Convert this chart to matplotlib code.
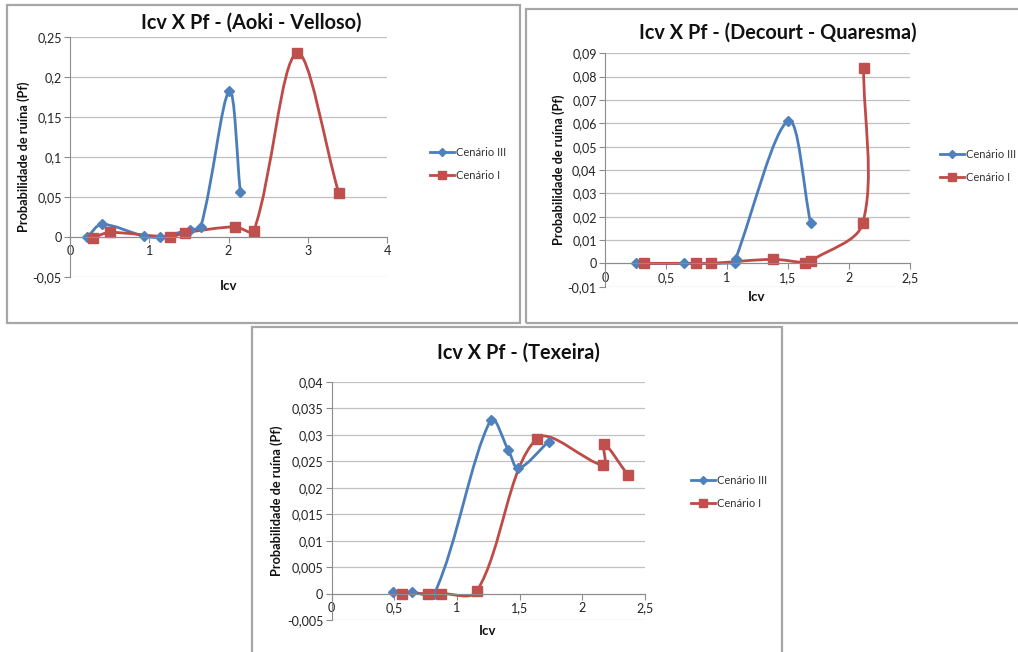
import matplotlib
matplotlib.use("Agg")
import matplotlib.pyplot as plt
import numpy as np
from matplotlib.path import Path
from matplotlib.patches import PathPatch, Rectangle
from matplotlib.lines import Line2D
from matplotlib.ticker import FuncFormatter

plt.rcParams["font.family"] = ["Lato", "DejaVu Sans"]

W, H = 1018, 652

# Aoki - Velloso
av_c3_x = [0.22, 0.40, 0.93, 1.13, 1.51, 1.65, 2.01, 2.15]
av_c3_y = [0.0, 0.0155, 0.001, -0.0005, 0.009, 0.0125, 0.1827, 0.0556]
av_c1_x = [0.29, 0.505, 1.26, 1.45, 2.08, 2.32, 2.86, 3.39]
av_c1_y = [-0.001, 0.0054, 0.0, 0.005, 0.0125, 0.0075, 0.23, 0.0555]

# Decourt - Quaresma
dq_c3_x = [0.254, 0.65, 1.065, 1.07, 1.503, 1.686]
dq_c3_y = [0.0, 0.0, 0.0003, 0.0018, 0.061, 0.0171]
dq_c1_x = [0.322, 0.743, 0.866, 1.38, 1.64, 1.686, 2.112, 2.12]
dq_c1_y = [0.0, 0.0, 0.0, 0.0017, 0.0003, 0.001, 0.0171, 0.0839]

# Texeira
tx_c3_x = [0.49, 0.64, 0.82, 1.27, 1.41, 1.49, 1.73]
tx_c3_y = [0.0002, 0.0003, 0.0, 0.0329, 0.0271, 0.0237, 0.0287]
tx_c1_x = [0.56, 0.77, 0.87, 1.157, 1.636, 2.168, 2.172, 2.364]
tx_c1_y = [0.0, 0.0, 0.0, 0.0004, 0.0293, 0.0243, 0.0283, 0.0224]

labels = ["Cenário III", "Cenário I"]

BLUE_LINE, BLUE_MK = "#4A7EBB", "#4F81BD"
RED_LINE, RED_MK = "#BE4B48", "#C0504D"


def smooth_path(xs, ys, sx, sy):
    # Excel-like smoothed line: Bezier segments, tangents scaled by chord length
    pts = np.column_stack([xs, ys]).astype(float)
    n = len(pts)

    def dist(a, b):
        return np.hypot((a[0] - b[0]) * sx, (a[1] - b[1]) * sy)

    verts = [pts[0]]
    codes = [Path.MOVETO]
    for i in range(n - 1):
        p0 = pts[max(i - 1, 0)]
        p1 = pts[i]
        p2 = pts[i + 1]
        p3 = pts[min(i + 2, n - 1)]
        d01, d12, d23 = dist(p0, p1), dist(p1, p2), dist(p2, p3)
        f1 = d12 / (d01 + d12) / 3 if d01 + d12 > 0 else 0
        f2 = d12 / (d12 + d23) / 3 if d12 + d23 > 0 else 0
        verts += [p1 + (p2 - p0) * f1, p2 - (p3 - p1) * f2, p2]
        codes += [Path.CURVE4] * 3
    return Path(verts, codes)


def comma(v, pos):
    if abs(v) < 1e-12:
        return "0"
    s = f"{v:.3f}".rstrip("0").rstrip(".")
    return s.replace(".", ",")


def fx(px):
    return px / W


def fy(py):
    return 1 - py / H


def make_chart(fig, box, frame, xlim, ylim, xstep, ystep, title, title_pos,
               ylabel_pos, xlabel_pos, legend_pos, series):
    l, t, r, b = box
    ax = fig.add_axes([fx(l), fy(b), fx(r) - fx(l), fy(t) - fy(b)])
    ax.set_facecolor("none")
    ax.set_xlim(*xlim)
    ax.set_ylim(*ylim)
    ax.set_xticks(np.arange(xlim[0], xlim[1] + xstep / 2, xstep))
    ax.set_yticks(np.arange(ylim[0], ylim[1] + ystep / 2, ystep))
    ax.xaxis.set_major_formatter(FuncFormatter(comma))
    ax.yaxis.set_major_formatter(FuncFormatter(comma))
    ax.grid(axis="y", color="#C0C0C0", linewidth=0.9)
    ax.set_axisbelow(True)
    for side in ["top", "right"]:
        ax.spines[side].set_visible(False)
    ax.spines["bottom"].set_position(("data", 0))
    ax.spines["bottom"].set_color("#8C8C8C")
    ax.spines["left"].set_color("#8C8C8C")
    ax.tick_params(axis="both", direction="out", length=4, width=0.8,
                   color="#8C8C8C", labelsize=9, labelcolor="#222222", pad=2)

    sx = (r - l) / (xlim[1] - xlim[0])
    sy = (b - t) / (ylim[1] - ylim[0])

    handles = []
    for (xs, ys), lc, mc, mk, ms in zip(series, [BLUE_LINE, RED_LINE],
                                          [BLUE_MK, RED_MK], ["D", "s"], [5.5, 6.8]):
        ax.add_patch(PathPatch(smooth_path(xs, ys, sx, sy), fill=False, edgecolor=lc,
                               linewidth=2, capstyle="round", joinstyle="round"))
        ax.plot(xs, ys, linestyle="none", marker=mk, markersize=ms,
                markerfacecolor=mc, markeredgecolor=mc)
        handles.append(Line2D([], [], color=lc, linewidth=2, marker=mk,
                              markersize=ms * 0.75, markerfacecolor=mc,
                              markeredgecolor=mc))

    fig.text(fx(title_pos[0]), fy(title_pos[1]), title, ha="center", va="center",
             fontsize=14.3, fontweight="bold", color="#111111")
    fig.text(fx(ylabel_pos[0]), fy(ylabel_pos[1]), "Probabilidade de ruína (Pf)",
             ha="center", va="center", rotation=90, fontsize=9.2,
             fontweight="bold", color="#111111")
    fig.text(fx(xlabel_pos[0]), fy(xlabel_pos[1]), "Icv", ha="center",
             va="center", fontsize=9.5, fontweight="bold", color="#111111")
    fig.legend(handles, labels, loc="center left",
               bbox_to_anchor=(fx(legend_pos[0]), fy(legend_pos[1])),
               frameon=False, fontsize=8.0, handlelength=2.2, handletextpad=0.15,
               labelspacing=1.05, borderaxespad=0, borderpad=0,
               labelcolor="#333333")

    fl, ft, fr, fb = frame
    fig.patches.append(Rectangle((fx(fl), fy(fb)), fx(fr) - fx(fl), fy(ft) - fy(fb),
                                 transform=fig.transFigure, fill=False,
                                 edgecolor="#A6A6A6", linewidth=1.6))
    return ax


fig = plt.figure(figsize=(W / 100, H / 100), dpi=100)
fig.patch.set_facecolor("white")

make_chart(fig, (70, 37.3, 387, 276.7), (7, 5, 520, 323), (0, 4), (-0.05, 0.25),
           1, 0.05, "Icv X Pf - (Aoki - Velloso)", (251, 23), (24, 157), (229, 286),
           (430, 164), [(av_c3_x, av_c3_y), (av_c1_x, av_c1_y)])

make_chart(fig, (605, 53.3, 910, 286.7), (526, 9, 1030, 323), (0, 2.5), (-0.01, 0.09),
           0.5, 0.01, "Icv X Pf - (Decourt - Quaresma)", (778, 33), (559, 170),
           (757, 297), (940, 166), [(dq_c3_x, dq_c3_y), (dq_c1_x, dq_c1_y)])

make_chart(fig, (331.7, 382, 645, 620), (252, 327, 782, 670), (0, 2.5), (-0.005, 0.04),
           0.5, 0.005, "Icv X Pf - (Texeira)", (518, 353), (277, 501),
           (488, 631), (691, 492), [(tx_c3_x, tx_c3_y), (tx_c1_x, tx_c1_y)])

fig.savefig("out.png", dpi=100, facecolor="white")
